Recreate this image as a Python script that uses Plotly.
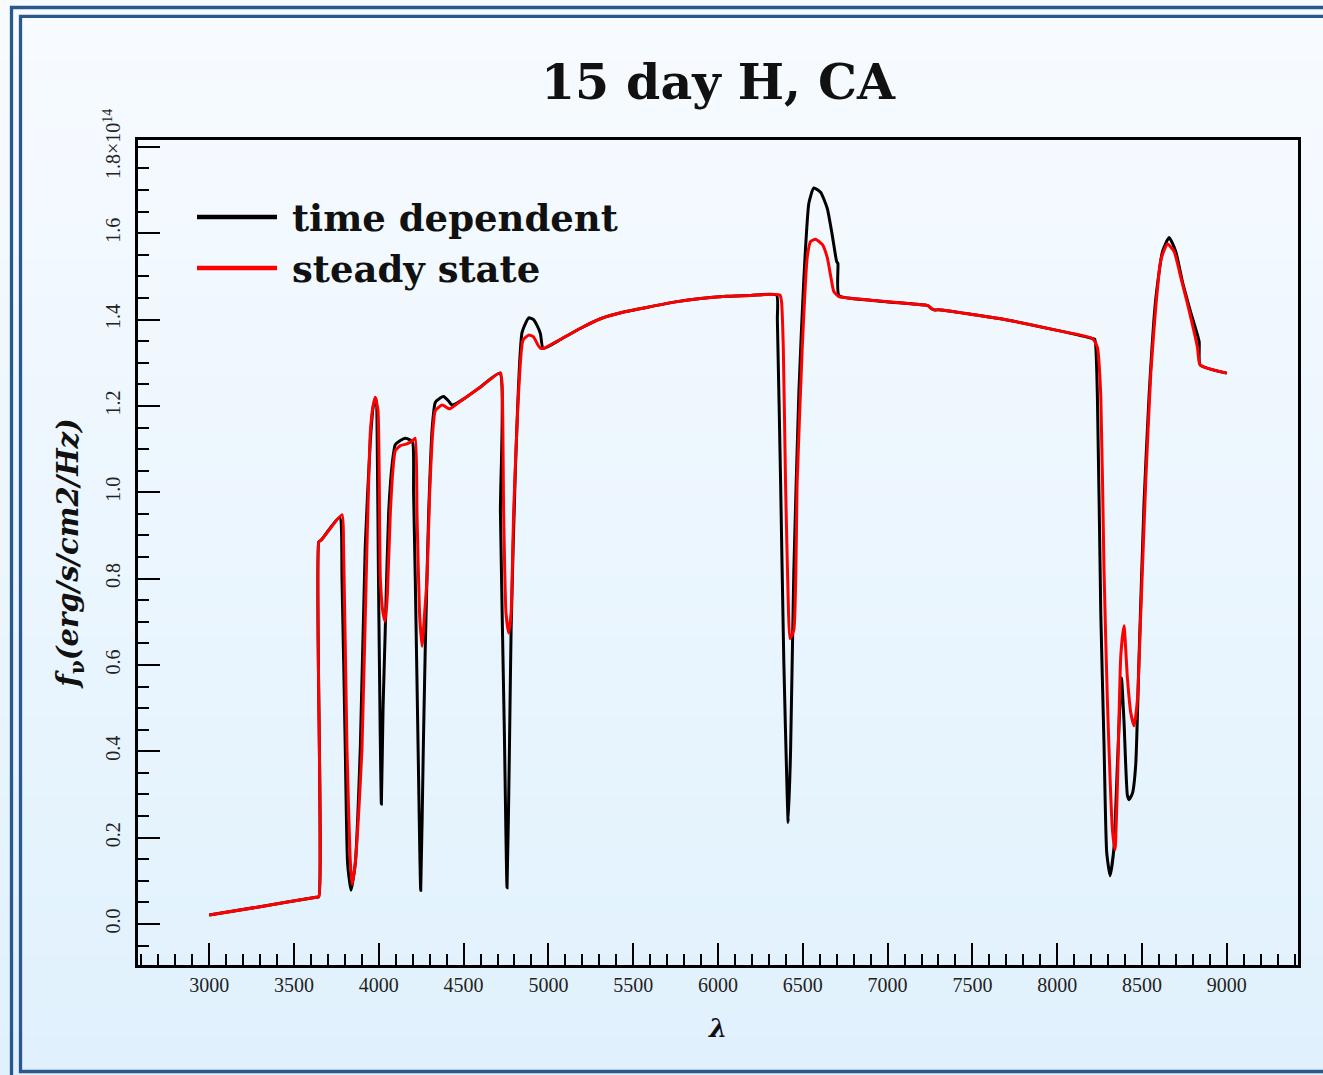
import plotly.graph_objects as go

# ---------------- data ----------------
wavelength_td = [3000, 3300, 3630, 3646, 3646, 3660, 3769, 3783, 3802, 3816, 3836, 3861, 3891, 3920, 3950, 3968,
                 3985, 3990, 3998, 4008, 4015, 4025, 4038, 4058, 4080, 4097, 4127, 4156, 4180, 4200, 4205, 4215,
                 4232, 4247, 4262, 4274, 4294, 4315, 4333, 4360, 4382, 4410, 4432, 4500, 4600, 4713, 4717,
                 4740, 4756, 4770, 4780, 4805, 4845, 4884, 4912, 4935, 4953, 4969, 5071, 5190, 5307, 5450,
                 5602, 5750, 5897, 6050, 6192, 6345, 6350, 6369, 6388, 6408, 6414, 6428, 6447, 6477, 6506,
                 6536, 6565, 6605, 6644, 6674, 6700, 6707, 6713, 6900, 7150, 7240, 7260, 7280, 7300, 7500,
                 7667, 8000, 8209, 8222, 8237, 8257, 8276, 8292, 8312, 8335, 8355, 8379, 8394, 8414, 8424,
                 8444, 8463, 8483, 8512, 8542, 8581, 8621, 8660, 8699, 8739, 8788, 8837, 8843, 9000]
flux_td = [0.021, 0.040, 0.062, 0.063, 0.885, 0.889, 0.942, 0.798, 0.41, 0.14, 0.078, 0.14, 0.41, 0.875, 1.12, 1.20,
           1.216, 1.14, 0.80, 0.45, 0.278, 0.50, 0.681, 0.953, 1.07, 1.11, 1.12, 1.125, 1.122, 1.115, 1.0, 0.798,
           0.40, 0.078, 0.40, 0.642, 0.953, 1.15, 1.208, 1.218, 1.222, 1.212, 1.202, 1.216, 1.244, 1.276, 0.953,
           0.45, 0.084, 0.40, 0.681, 1.05, 1.371, 1.404, 1.40, 1.385, 1.367, 1.333, 1.354, 1.380, 1.402, 1.418,
           1.430, 1.441, 1.449, 1.454, 1.456, 1.457, 1.40, 1.026, 0.609, 0.298, 0.235, 0.401, 0.816, 1.233, 1.493,
           1.670, 1.705, 1.695, 1.658, 1.595, 1.534, 1.53, 1.456, 1.445, 1.436, 1.432, 1.425, 1.422, 1.423, 1.412,
           1.402, 1.375, 1.356, 1.354, 1.225, 0.721, 0.419, 0.166, 0.112, 0.177, 0.368, 0.570, 0.469, 0.298, 0.288,
           0.303, 0.368, 0.621, 0.974, 1.225, 1.447, 1.558, 1.590, 1.558, 1.487, 1.416, 1.349, 1.295, 1.276]

wavelength_ss = [3000, 3300, 3630, 3646, 3646, 3660, 3783, 3792, 3812, 3830, 3842, 3861, 3881, 3901, 3930, 3950,
                 3966, 3979, 3995, 4009, 4025, 4038, 4050, 4068, 4085, 4097, 4127, 4166, 4200, 4215, 4225, 4240,
                 4255, 4270, 4284, 4300, 4320, 4333, 4373, 4410, 4422, 4500, 4600, 4717, 4727, 4736, 4750,
                 4766, 4780, 4795, 4820, 4850, 4884, 4912, 4940, 4953, 4969, 5071, 5190, 5307, 5450, 5602,
                 5750, 5897, 6050, 6192, 6365, 6375, 6385, 6398, 6414, 6424, 6447, 6467, 6497, 6526, 6546,
                 6575, 6615, 6644, 6664, 6683, 6713, 6900, 7150, 7240, 7260, 7280, 7300, 7500, 7667, 8000,
                 8209, 8237, 8257, 8276, 8296, 8326, 8341, 8355, 8375, 8394, 8414, 8434, 8454, 8473, 8493,
                 8522, 8552, 8581, 8611, 8650, 8689, 8729, 8768, 8827, 8843, 9000]
flux_ss = [0.021, 0.040, 0.062, 0.063, 0.885, 0.889, 0.948, 0.875, 0.41, 0.16, 0.092, 0.14, 0.256, 0.41, 0.875, 1.14,
           1.20, 1.220, 1.19, 0.80, 0.72, 0.701, 0.76, 0.953, 1.06, 1.096, 1.108, 1.112, 1.12, 1.125, 0.953, 0.72,
           0.643, 0.72, 0.798, 1.0, 1.15, 1.189, 1.202, 1.194, 1.194, 1.216, 1.244, 1.277, 1.25, 0.953, 0.72,
           0.674, 0.72, 0.953, 1.20, 1.352, 1.364, 1.360, 1.34, 1.334, 1.333, 1.354, 1.380, 1.402, 1.418, 1.430,
           1.441, 1.449, 1.454, 1.456, 1.457, 1.44, 1.337, 1.026, 0.75, 0.661, 0.681, 1.026, 1.337, 1.544, 1.581,
           1.586, 1.574, 1.544, 1.502, 1.465, 1.453, 1.445, 1.436, 1.432, 1.425, 1.422, 1.423, 1.412, 1.402, 1.375,
           1.356, 1.336, 1.225, 0.822, 0.519, 0.217, 0.172, 0.319, 0.621, 0.691, 0.570, 0.489, 0.459, 0.519, 0.721,
           1.023, 1.276, 1.427, 1.538, 1.575, 1.558, 1.498, 1.437, 1.336, 1.295, 1.276]

x_major_ticks = [3000, 3500, 4000, 4500, 5000, 5500, 6000, 6500, 7000, 7500, 8000, 8500, 9000]
x_tick_labels = ["3000", "3500", "4000", "4500", "5000", "5500", "6000", "6500", "7000", "7500", "8000", "8500", "9000"]
y_major_ticks = [0.0, 0.2, 0.4, 0.6, 0.8, 1.0, 1.2, 1.4, 1.6, 1.8]
y_tick_labels = ["0.0", "0.2", "0.4", "0.6", "0.8", "1.0", "1.2", "1.4", "1.6", "1.8×10<sup>14</sup>"]
series_names = ["time dependent", "steady state"]
series_colors = ["#000000", "#ff0000"]

# ---------------- layout geometry (pixels) ----------------
W, H = 1323, 1075
L, R, T, B = 138, 1298, 140, 965


def pxx(x):
    return (x - L) / (R - L)


def pxy(y):
    return (B - y) / (B - T)


fig = go.Figure()
fig.add_trace(go.Scatter(x=wavelength_td, y=flux_td, mode="lines", name=series_names[0],
                         line=dict(color=series_colors[0], width=3, shape="spline", smoothing=0.5),
                         showlegend=False))
fig.add_trace(go.Scatter(x=wavelength_ss, y=flux_ss, mode="lines", name=series_names[1],
                         line=dict(color=series_colors[1], width=3, shape="spline", smoothing=0.5),
                         showlegend=False))

shapes = []
# vertical gradient background
n_bands = 54
top_c = (247, 251, 255)
bot_c = (224, 241, 253)
for i in range(n_bands):
    f = i / (n_bands - 1)
    c = tuple(round(top_c[k] + (bot_c[k] - top_c[k]) * f) for k in range(3))
    y0 = i * H / n_bands
    y1 = (i + 1) * H / n_bands + 1
    shapes.append(dict(type="rect", xref="paper", yref="paper", layer="below",
                       x0=pxx(-5), x1=pxx(W + 5), y0=pxy(y1), y1=pxy(y0),
                       fillcolor="rgb(%d,%d,%d)" % c, line=dict(width=0)))
# double frame
frame_col = "#29598c"
shapes.append(dict(type="rect", xref="paper", yref="paper", layer="above",
                   x0=pxx(11.5), x1=pxx(1352), y0=pxy(1080.5), y1=pxy(7.5),
                   line=dict(color=frame_col, width=3.3), fillcolor="rgba(0,0,0,0)"))
shapes.append(dict(type="rect", xref="paper", yref="paper", layer="above",
                   x0=pxx(20.5), x1=pxx(1342), y0=pxy(1071.5), y1=pxy(16.3),
                   line=dict(color=frame_col, width=3.3), fillcolor="rgba(0,0,0,0)"))
# legend (drawn by hand)
annotations = []
legend_rows = [217, 268]
for name, col, yy in zip(series_names, series_colors, legend_rows):
    shapes.append(dict(type="line", xref="paper", yref="paper", x0=pxx(197), x1=pxx(277),
                       y0=pxy(yy), y1=pxy(yy), line=dict(color=col, width=4.5)))
    annotations.append(dict(xref="paper", yref="paper", x=pxx(290), y=pxy(yy + 1), text="<b>%s</b>" % name,
                            showarrow=False, xanchor="left", yanchor="middle",
                            font=dict(family="DejaVu Serif", size=37, color="#111111")))

tick_font = dict(family="Liberation Serif", size=20, color="#222222")
axis_common = dict(showgrid=False, zeroline=False, showline=True, linecolor="black", linewidth=3,
                   mirror=True, ticks="inside", ticklen=22, tickwidth=2, tickcolor="black")

fig.update_layout(
    width=W, height=H,
    margin=dict(l=L, r=W - R, t=T, b=H - B, pad=0),
    paper_bgcolor="rgb(236,246,254)",
    plot_bgcolor="rgba(0,0,0,0)",
    title=dict(text="<b>15 day H, CA</b>", x=0.5, xref="paper", y=1 - 82 / H, yref="container",
               xanchor="center", yanchor="middle",
               font=dict(family="DejaVu Serif", size=49, color="#111111")),
    xaxis=dict(range=[2580, 9420], tickvals=x_major_ticks, ticktext=x_tick_labels,
               tickfont=tick_font, ticklabelstandoff=0,
               minor=dict(dtick=100, tick0=0, ticks="inside", ticklen=11, tickwidth=2, tickcolor="black"),
               title=dict(text="<b><i>λ</i></b>", standoff=24,
                          font=dict(family="DejaVu Serif", size=26, color="#111111")),
               **axis_common),
    yaxis=dict(range=[-0.095, 1.816], tickvals=y_major_ticks, ticktext=y_tick_labels,
               tickfont=tick_font, tickangle=-90, ticklabelstandoff=7,
               minor=dict(dtick=0.05, tick0=0, ticks="inside", ticklen=11, tickwidth=2, tickcolor="black"),
               title=dict(text="<b><i>f</i><sub>ν</sub><i>(erg/s/cm2/Hz)</i></b>", standoff=13,
                          font=dict(family="DejaVu Serif", size=29, color="#111111")),
               **axis_common),
    xaxis2=dict(overlaying="x", side="top", anchor="y", range=[2580, 9420], tickvals=x_major_ticks,
                showticklabels=False, showgrid=False, zeroline=False, showline=False,
                ticks="inside", ticklen=22, tickwidth=2, tickcolor="black"),
    yaxis2=dict(overlaying="y", side="right", anchor="x", range=[-0.095, 1.816], tickvals=y_major_ticks,
                showticklabels=False, showgrid=False, zeroline=False, showline=False,
                ticks="inside", ticklen=22, tickwidth=2, tickcolor="black"),
    shapes=shapes,
    annotations=annotations,
    showlegend=False,
)

fig.write_html("out.html", config={"displayModeBar": False},
               post_script="document.body.style.margin='0';document.body.style.overflow='hidden';")
